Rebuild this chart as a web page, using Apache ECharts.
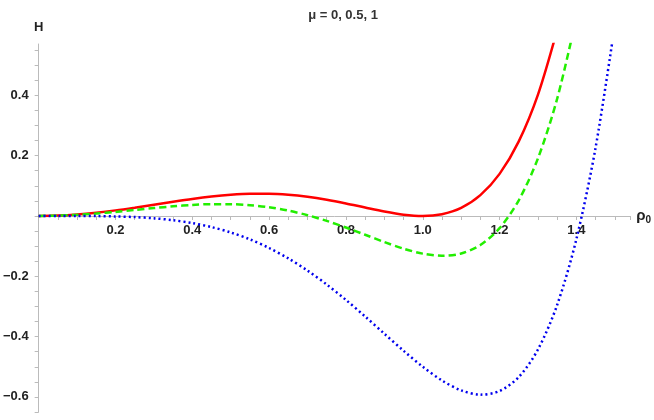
<!DOCTYPE html>
<html>
<head>
<style>
 * { margin: 0; padding: 0; }
 #container { width: 654px; height: 420px; }
</style>
</head>
<body>
<div id="container"></div>
<script src="https://cdn.jsdelivr.net/npm/echarts@6/dist/echarts.min.js"></script>
<script>
    var rho = [0, 0.05, 0.1, 0.15, 0.2, 0.25, 0.3, 0.35, 0.4, 0.45, 0.5, 0.55, 0.6, 0.65, 0.7, 0.75, 0.8, 0.85, 0.9, 0.95, 1.0, 1.05, 1.1, 1.15, 1.2, 1.25, 1.3, 1.35, 1.4, 1.45, 1.5];
    var hMu0 = [0, 0.0012, 0.0049, 0.0108, 0.0184, 0.0275, 0.0373, 0.0472, 0.0565, 0.0644, 0.0703, 0.0736, 0.0737, 0.0705, 0.0637, 0.0538, 0.0415, 0.0278, 0.0146, 0.0043, 0, 0.0058, 0.0267, 0.0688, 0.1394, 0.2472, 0.4023, 0.6165];
    var hMu05 = [0, 0.0009, 0.0037, 0.0079, 0.0134, 0.0197, 0.0260, 0.0319, 0.0365, 0.0391, 0.0391, 0.0358, 0.0287, 0.0176, 0.0025, -0.0165, -0.0385, -0.0625, -0.0866, -0.1085, -0.125, -0.1320, -0.1246, -0.0965, -0.0406, 0.0519, 0.1911, 0.3887, 0.6582];
    var hMu1 = [0, 0, -0.0001, -0.0005, -0.0016, -0.0038, -0.0077, -0.0141, -0.0236, -0.0369, -0.0547, -0.0777, -0.1063, -0.1408, -0.1813, -0.2274, -0.2785, -0.3334, -0.3904, -0.4470, -0.5, -0.5455, -0.5783, -0.5925, -0.5806, -0.5341, -0.4427, -0.2948, -0.0768, 0.2266, 0.6328];

    function pairs(ys) {
        return ys.map(function (y, i) { return [rho[i], y]; });
    }

    var font = 'Liberation Sans';
    var yMin = -0.65, yMax = 0.57;
    var gridTop = 44, gridBottom = 8;
    // move the x axis up to H = 0 by hand
    var plotH = 420 - gridTop - gridBottom;
    var zeroOffset = -Math.round(plotH * (0 - yMin) / (yMax - yMin));

    var myChart = echarts.init(document.getElementById('container'));
    var option = {
        animation: false,
        title: {
            text: 'μ = 0, 0.5, 1',
            left: 338, top: 4, textAlign: 'center',
            textStyle: { fontFamily: font, fontSize: 13, fontWeight: 'bold', color: '#333' }
        },
        grid: { left: 37, right: 23, top: gridTop, bottom: gridBottom },
        xAxis: {
            type: 'value', min: 0, max: 1.54, interval: 0.05,
            offset: zeroOffset,
            name: '{a|ρ}{b|0}', nameLocation: 'end', nameGap: 6,
            nameTextStyle: { rich: {
                a: { fontFamily: font, fontSize: 15, fontWeight: 'bold', color: '#222' },
                b: { fontFamily: font, fontSize: 10, fontWeight: 'bold', color: '#222', verticalAlign: 'bottom', padding: [8, 0, 0, 0] }
            } },
            axisLine: { onZero: false, lineStyle: { color: '#bbb' } },
            axisTick: { length: 4, lineStyle: { color: '#bbb' } },
            splitLine: { show: false },
            axisLabel: {
                fontFamily: font, fontSize: 13, fontWeight: 'bold', color: '#222', margin: 8,
                formatter: function (v) {
                    var k = Math.round(v * 100);
                    return (k > 0 && k % 20 === 0) ? (k / 100).toFixed(1) : '';
                }
            }
        },
        yAxis: {
            type: 'value', min: yMin, max: yMax, interval: 0.05,
            name: 'H', nameLocation: 'end', nameGap: 10,
            nameTextStyle: { fontFamily: font, fontSize: 13, fontWeight: 'bold', color: '#222' },
            axisLine: { show: true, onZero: false, lineStyle: { color: '#bbb' } },
            axisTick: { show: true, length: 4, lineStyle: { color: '#bbb' } },
            splitLine: { show: false },
            axisLabel: {
                fontFamily: font, fontSize: 13, fontWeight: 'bold', color: '#222', margin: 10,
                showMaxLabel: false,
                formatter: function (v) {
                    var k = Math.round(v * 100);
                    if (k === 0 || k % 20 !== 0) return '';
                    return (k < 0 ? '\u2212' : '') + (Math.abs(k) / 100).toFixed(1);
                }
            }
        },
        series: [
            { type: 'line', data: pairs(hMu0), smooth: 0.3, showSymbol: false, clip: true,
              lineStyle: { color: '#ff0000', width: 2.5 } },
            { type: 'line', data: pairs(hMu05), smooth: 0.3, showSymbol: false, clip: true,
              lineStyle: { color: '#22ee00', width: 2.5, type: [7, 4] } },
            { type: 'line', data: pairs(hMu1), smooth: 0.3, showSymbol: false, clip: true,
              lineStyle: { color: '#0000ee', width: 2.5, type: [2, 3] } }
        ]
    };
    myChart.setOption(option);
</script>
</body>
</html>
